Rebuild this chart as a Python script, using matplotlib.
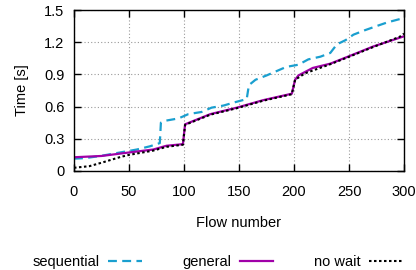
import matplotlib
matplotlib.use("Agg")
import matplotlib.pyplot as plt

plt.rcParams['font.family'] = ['Liberation Sans', 'DejaVu Sans']

seq_x = [0, 10, 24, 35, 46, 57, 69, 78, 79, 84, 95, 104, 116, 125, 136, 146, 157, 159, 165, 175, 184, 193, 204, 213, 224, 233, 239, 247, 254, 264, 275, 285, 296, 300]
seq_y = [0.115, 0.12, 0.14, 0.16, 0.18, 0.20, 0.23, 0.26, 0.45, 0.47, 0.49, 0.53, 0.55, 0.59, 0.61, 0.64, 0.67, 0.80, 0.85, 0.89, 0.93, 0.97, 0.99, 1.04, 1.065, 1.10, 1.18, 1.22, 1.27, 1.31, 1.35, 1.385, 1.415, 1.425]

gen_x = [0, 25, 48, 72, 84, 99, 101, 124, 148, 172, 198, 201, 204, 217, 233, 249, 272, 300]
gen_y = [0.128, 0.14, 0.17, 0.20, 0.235, 0.25, 0.435, 0.53, 0.59, 0.66, 0.72, 0.85, 0.89, 0.96, 1.0, 1.065, 1.16, 1.255]

nw_x = [0, 14, 26, 42, 50, 72, 84, 99, 101, 124, 148, 172, 198, 201, 210, 233, 249, 272, 296, 300]
nw_y = [0.03, 0.045, 0.08, 0.13, 0.15, 0.19, 0.225, 0.245, 0.43, 0.525, 0.585, 0.655, 0.715, 0.85, 0.91, 0.995, 1.06, 1.155, 1.25, 1.28]

labels = ["sequential", "general", "no wait"]
x_ticks = [0, 50, 100, 150, 200, 250, 300]
y_ticks = [0, 0.3, 0.6, 0.9, 1.2, 1.5]
y_tick_labels = ["0", "0.3", "0.6", "0.9", "1.2", "1.5"]

FS = 10.5

fig = plt.figure(figsize=(4.16, 2.70), dpi=100)
ax = fig.add_axes([74/416, 1-171/270, 330/416, 161/270])

l1, = ax.plot(seq_x, seq_y, color='#1a9fcf', lw=1.6, linestyle=(0, (4, 2.4)), label=labels[0])
l2, = ax.plot(gen_x, gen_y, color='#a000a8', lw=1.6, label=labels[1])
l3, = ax.plot(nw_x, nw_y, color='black', lw=1.5, linestyle=(0, (1.2, 1.2)), label=labels[2])

ax.set_xlim(0, 300)
ax.set_ylim(0, 1.5)
ax.set_xticks(x_ticks)
ax.set_yticks(y_ticks)
ax.set_yticklabels(y_tick_labels)
ax.tick_params(direction='in', length=5, width=1, top=True, right=True, labelsize=FS)
ax.tick_params(axis='x', pad=10)
ax.tick_params(axis='y', pad=7)
ax.grid(True, color='#999999', linestyle=(0, (1, 2)), lw=0.8)
for s in ax.spines.values():
    s.set_linewidth(1.0)
ax.set_xlabel("Flow number", fontsize=FS, labelpad=12)
ax.set_ylabel("Time [s]", fontsize=FS, labelpad=11)

fig.legend(handles=[l1, l2, l3], labels=labels, loc='center', bbox_to_anchor=(0.523, 1-262/270),
           ncol=3, frameon=False, markerfirst=False, handlelength=2.3, columnspacing=2.8,
           handletextpad=0.55, fontsize=FS)

fig.savefig("out.png", dpi=100)
